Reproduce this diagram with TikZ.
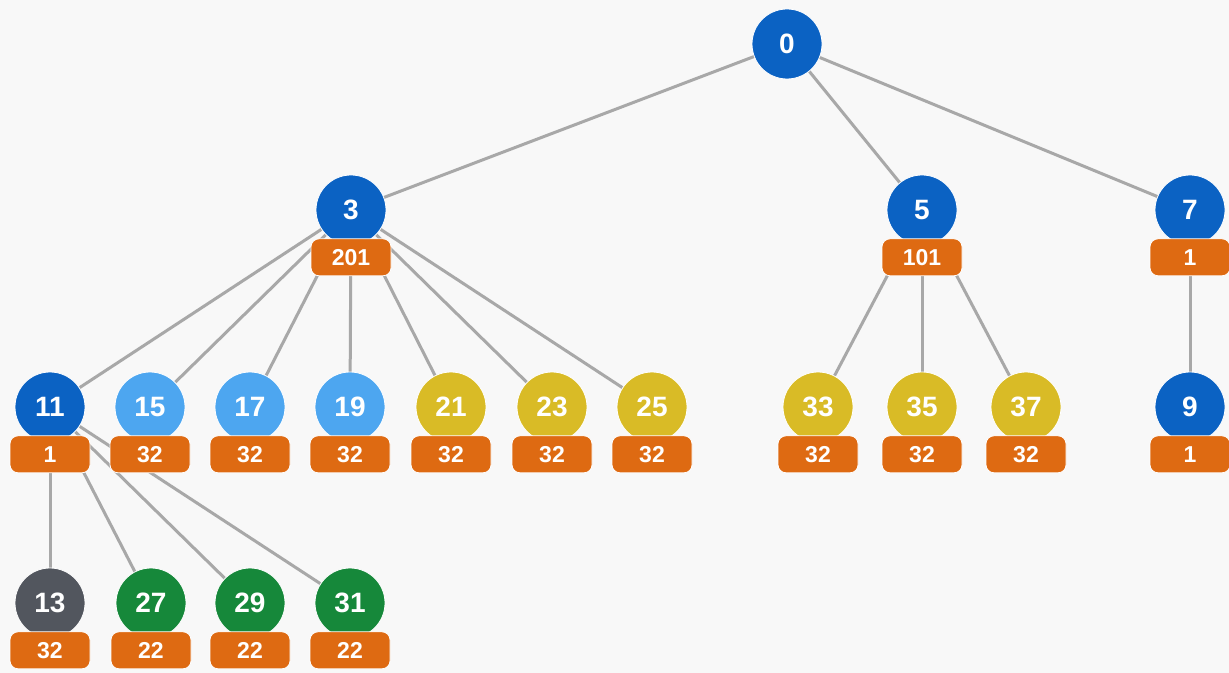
\documentclass[tikz,border=0pt]{standalone}
\usepackage{fontspec}
\setmainfont{Liberation Sans}
\usepackage{tikz}
\usetikzlibrary{positioning,backgrounds}

\definecolor{nodeblue}{RGB}{11,98,195}
\definecolor{lightblue}{RGB}{77,166,240}
\definecolor{nodeyellow}{RGB}{217,187,38}
\definecolor{nodegreen}{RGB}{22,136,58}
\definecolor{nodegray}{RGB}{82,86,94}
\definecolor{countorange}{RGB}{222,106,18}
\definecolor{edgegray}{RGB}{168,168,168}
\definecolor{bggray}{RGB}{248,248,248}

\tikzset{
    vertex/.style={circle, minimum size=35pt, inner sep=0pt, draw=white, line width=0.4pt,
        text=white, font=\fontsize{14}{14}\selectfont\bfseries},
    count/.style={rounded corners=4pt, fill=countorange, draw=white, line width=0.4pt,
        minimum width=40pt, minimum height=18.5pt, inner sep=0pt,
        text=white, font=\fontsize{11.5}{11.5}\selectfont\bfseries},
    link/.style={draw=edgegray, line width=1.5pt}
}

\begin{document}
\begin{tikzpicture}[x=0.5pt, y=-0.5pt]
        \useasboundingbox (0,0) rectangle (1229,673);

        \node[vertex, fill=nodeblue] (n0) at ( 787, 44) {0};

        \node[vertex, fill=nodeblue] (n3) at ( 351,210) {3};
        \node[vertex, fill=nodeblue] (n5) at ( 922,210) {5};
        \node[vertex, fill=nodeblue] (n7) at (1190,210) {7};
        \node[count, below=-3.5pt of n3] (c3) {201};
        \node[count, below=-3.5pt of n5] (c5) {101};
        \node[count, below=-3.5pt of n7] (c7) {1};

        \node[vertex, fill=nodeblue]   (n11) at (  50,407) {11};
        \node[vertex, fill=lightblue]  (n15) at ( 150,407) {15};
        \node[vertex, fill=lightblue]  (n17) at ( 250,407) {17};
        \node[vertex, fill=lightblue]  (n19) at ( 350,407) {19};
        \node[vertex, fill=nodeyellow] (n21) at ( 451,407) {21};
        \node[vertex, fill=nodeyellow] (n23) at ( 552,407) {23};
        \node[vertex, fill=nodeyellow] (n25) at ( 652,407) {25};
        \node[vertex, fill=nodeyellow] (n33) at ( 818,407) {33};
        \node[vertex, fill=nodeyellow] (n35) at ( 922,407) {35};
        \node[vertex, fill=nodeyellow] (n37) at (1026,407) {37};
        \node[vertex, fill=nodeblue]   (n9)  at (1190,407) {9};
        \node[count, below=-3.5pt of n11] (c11) {1};
        \node[count, below=-3.5pt of n15] (c15) {32};
        \node[count, below=-3.5pt of n17] (c17) {32};
        \node[count, below=-3.5pt of n19] (c19) {32};
        \node[count, below=-3.5pt of n21] (c21) {32};
        \node[count, below=-3.5pt of n23] (c23) {32};
        \node[count, below=-3.5pt of n25] (c25) {32};
        \node[count, below=-3.5pt of n33] (c33) {32};
        \node[count, below=-3.5pt of n35] (c35) {32};
        \node[count, below=-3.5pt of n37] (c37) {32};
        \node[count, below=-3.5pt of n9]  (c9)  {1};

        \node[vertex, fill=nodegray]  (n13) at (  50,603) {13};
        \node[vertex, fill=nodegreen] (n27) at ( 151,603) {27};
        \node[vertex, fill=nodegreen] (n29) at ( 250,603) {29};
        \node[vertex, fill=nodegreen] (n31) at ( 350,603) {31};
        \node[count, below=-3.5pt of n13] (c13) {32};
        \node[count, below=-3.5pt of n27] (c27) {22};
        \node[count, below=-3.5pt of n29] (c29) {22};
        \node[count, below=-3.5pt of n31] (c31) {22};

        \begin{scope}[on background layer]
            \fill[bggray] (0,0) rectangle (1229,673);
            \draw[link] (n0.center) -- (n3.center);
            \draw[link] (n0.center) -- (n5.center);
            \draw[link] (n0.center) -- (n7.center);

            \draw[link] (n3.center) -- (n11.center);
            \draw[link] (n3.center) -- (n15.center);
            \draw[link] (n3.center) -- (n17.center);
            \draw[link] (n3.center) -- (n19.center);
            \draw[link] (n3.center) -- (n21.center);
            \draw[link] (n3.center) -- (n23.center);
            \draw[link] (n3.center) -- (n25.center);

            \draw[link] (n5.center) -- (n33.center);
            \draw[link] (n5.center) -- (n35.center);
            \draw[link] (n5.center) -- (n37.center);
            \draw[link] (n7.center) -- (n9.center);

            \draw[link] (n11.center) -- (n13.center);
            \draw[link] (n11.center) -- (n27.center);
            \draw[link] (n11.center) -- (n29.center);
            \draw[link] (n11.center) -- (n31.center);
        \end{scope}
    \end{tikzpicture}
\end{document}
